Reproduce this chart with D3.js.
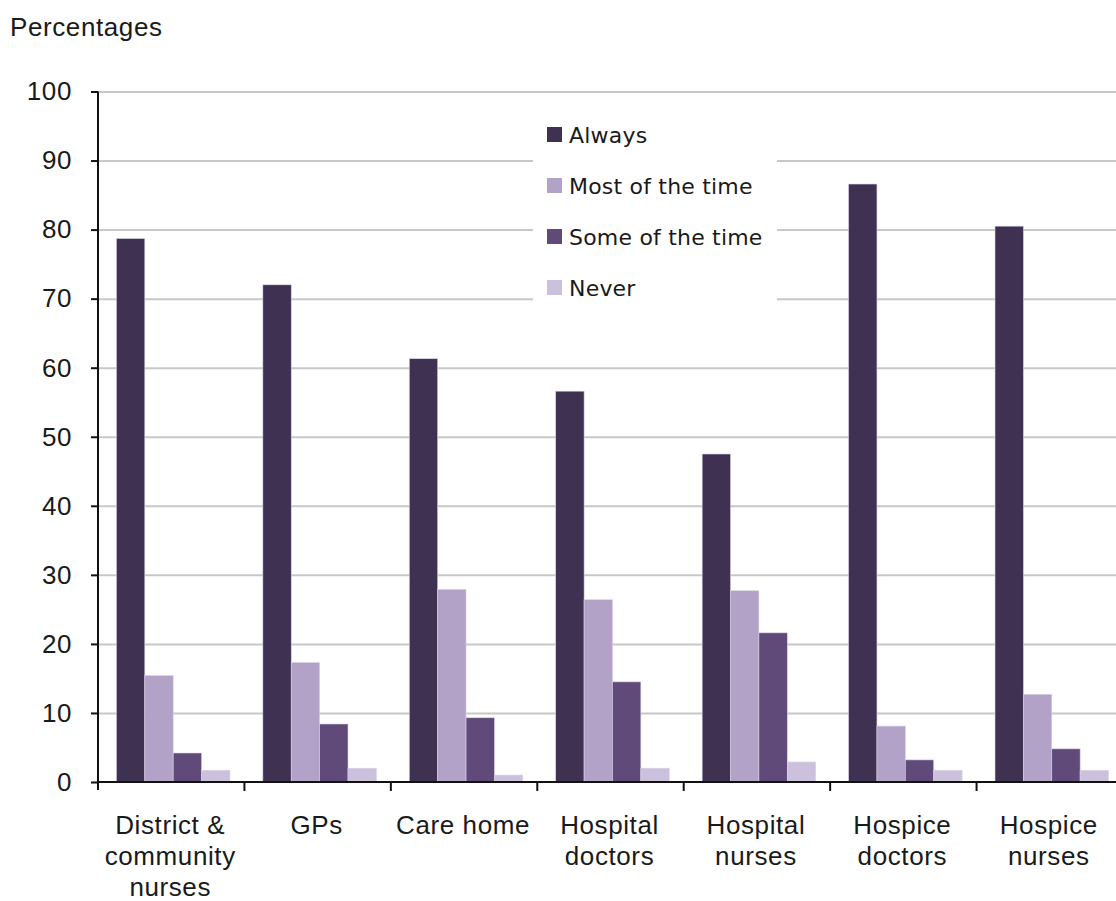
<!DOCTYPE html>
<html>
<head>
<meta charset="utf-8">
<script src="https://cdn.jsdelivr.net/npm/d3@7"></script>
<style>
  body { margin: 0; background: #fff; }
  svg { display: block; }
  .tick-label { font-family: "Liberation Sans", Arial, sans-serif; font-size: 26px; letter-spacing: 0.6px; fill: #1a1a1a; }
  .legend-text { font-family: "DejaVu Sans", Tahoma, sans-serif; font-size: 22px; letter-spacing: 0.2px; fill: #1a1a1a; }
</style>
</head>
<body>
<div id="chart"></div>
<script>
// chart values
var categories = ["District & community nurses", "GPs", "Care home", "Hospital doctors",
                  "Hospital nurses", "Hospice doctors", "Hospice nurses"];
var categoryLines = [["District &", "community", "nurses"], ["GPs"], ["Care home"],
                     ["Hospital", "doctors"], ["Hospital", "nurses"],
                     ["Hospice", "doctors"], ["Hospice", "nurses"]];
var seriesNames = ["Always", "Most of the time", "Some of the time", "Never"];
var always = [78.7, 72.0, 61.3, 56.6, 47.5, 86.6, 80.5];
var mostOfTheTime = [15.4, 17.3, 27.9, 26.4, 27.7, 8.1, 12.7];
var someOfTheTime = [4.2, 8.4, 9.3, 14.5, 21.6, 3.2, 4.8];
var never = [1.7, 2.0, 1.0, 2.0, 2.9, 1.7, 1.7];
var yTicks = [0, 10, 20, 30, 40, 50, 60, 70, 80, 90, 100];
var seriesColors = ["#3f3152", "#b3a2c8", "#5f4a7a", "#cbc1dc"];

var seriesValues = [always, mostOfTheTime, someOfTheTime, never];

var width = 1116, height = 901;
var plot = {left: 98, right: 1123, top: 91.5, bottom: 782};

var svg = d3.select("#chart").append("svg")
    .attr("width", width)
    .attr("height", height);

var x0 = d3.scaleBand()
    .domain(categories)
    .range([plot.left, plot.right])
    .padding(0);

var x1 = d3.scaleBand()
    .domain(seriesNames)
    .range([0, x0.bandwidth()])
    .paddingInner(0)
    .paddingOuter(0.58)
    .align(0.56);

var y = d3.scaleLinear()
    .domain([0, 100])
    .range([plot.bottom, plot.top]);

// gridlines
svg.append("g")
    .attr("transform", "translate(" + plot.left + ",0)")
    .call(d3.axisRight(y).tickValues(yTicks.slice(1)).tickSize(width - plot.left).tickFormat(""))
    .call(function(g) {
        g.select(".domain").remove();
        g.selectAll("line").attr("stroke", "#c8c8c8").attr("stroke-width", 2);
    });

// bars
var rows = categories.map(function(c, i) {
    return seriesNames.map(function(s, j) {
        return {cat: c, series: s, value: seriesValues[j][i], color: seriesColors[j]};
    });
});

var groups = svg.append("g").selectAll("g")
    .data(rows)
    .enter()
    .append("g")
    .attr("transform", function(d) { return "translate(" + x0(d[0].cat) + ",0)"; });

groups.selectAll("rect")
    .data(function(d) { return d; })
    .enter()
    .append("rect")
    .attr("x", function(d) { return x1(d.series); })
    .attr("y", function(d) { return y(d.value); })
    .attr("width", x1.bandwidth())
    .attr("height", function(d) { return y(0) - y(d.value); })
    .attr("fill", function(d) { return d.color; })
    .attr("stroke", "#d9d0e4")
    .attr("stroke-width", 0.6);

// y axis
svg.append("g")
    .attr("transform", "translate(" + plot.left + ",0)")
    .call(d3.axisLeft(y).tickValues(yTicks).tickSize(7).tickSizeOuter(0).tickPadding(19))
    .call(function(g) {
        g.select(".domain").attr("stroke", "#111").attr("stroke-width", 2)
            .attr("d", "M0," + plot.top + "V" + (plot.bottom + 8));
        g.selectAll("line").attr("stroke", "#111").attr("stroke-width", 2);
        g.selectAll("text").attr("class", "tick-label").attr("font-size", null).attr("font-family", null);
    });

// x axis line and boundary ticks
svg.append("line")
    .attr("x1", plot.left).attr("x2", width)
    .attr("y1", y(0)).attr("y2", y(0))
    .attr("stroke", "#111").attr("stroke-width", 2);

svg.append("g").selectAll("line")
    .data(categories)
    .enter()
    .append("line")
    .attr("x1", function(d) { return x0(d) + x0.bandwidth(); })
    .attr("x2", function(d) { return x0(d) + x0.bandwidth(); })
    .attr("y1", y(0))
    .attr("y2", y(0) + 9)
    .attr("stroke", "#111")
    .attr("stroke-width", 2);

// category labels
var catLabels = svg.append("g").selectAll("text")
    .data(categories)
    .enter()
    .append("text")
    .attr("class", "tick-label")
    .attr("text-anchor", "middle")
    .attr("x", function(d) { return x0(d) + x0.bandwidth() / 2 - 1; })
    .attr("y", 834);

catLabels.selectAll("tspan")
    .data(function(d, i) { return categoryLines[i]; })
    .enter()
    .append("tspan")
    .attr("x", function() { return d3.select(this.parentNode).attr("x"); })
    .attr("dy", function(d, i) { return i === 0 ? 0 : 31; })
    .text(function(d) { return d; });

// y title
svg.append("text")
    .attr("class", "tick-label")
    .attr("x", 10)
    .attr("y", 36)
    .text("Percentages");

// legend
var legend = svg.append("g");
legend.append("rect")
    .attr("x", 533).attr("y", 110)
    .attr("width", 244).attr("height", 200)
    .attr("fill", "#fff");

var legendItems = legend.selectAll("g")
    .data(seriesNames)
    .enter()
    .append("g")
    .attr("transform", function(d, i) { return "translate(547," + (134.5 + i * 51) + ")"; });

legendItems.append("rect")
    .attr("x", 0).attr("y", -7.5)
    .attr("width", 15).attr("height", 15)
    .attr("fill", function(d, i) { return seriesColors[i]; });

legendItems.append("text")
    .attr("class", "legend-text")
    .attr("x", 22)
    .attr("y", 8)
    .text(function(d) { return d; });
</script>
</body>
</html>
